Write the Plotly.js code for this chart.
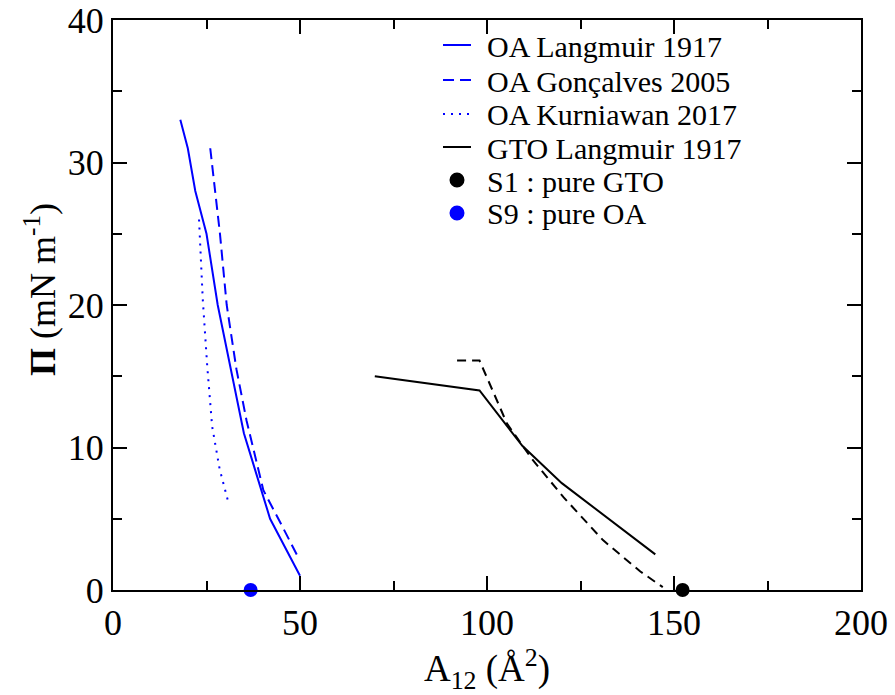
<!DOCTYPE html>
<html><head><meta charset="utf-8">
<script src="https://cdn.plot.ly/plotly-3.0.1.min.js"></script>
<style>
body{margin:0;background:#fff}
#c{width:895px;height:695px}
#c svg text, #c svg tspan { font-family: 'Liberation Serif', 'Times New Roman', serif !important; }
</style>
</head><body><div id="c"></div>
<script>
const oaLangX = [18, 20, 22, 25, 28, 35, 42, 50];
const oaLangY = [33, 31, 28, 25, 20, 11, 5, 1];
const oaGoncX = [26, 28.6, 30.4, 33, 35.7, 40.2, 45, 49.5];
const oaGoncY = [31, 25, 20, 15.5, 11.9, 7, 4.6, 2.3];
const oaKurnX = [23, 24, 25.2, 26.5, 28.5, 30.8];
const oaKurnY = [26, 20.4, 15.7, 11.5, 8.5, 6.2];
const gtoLangX = [70, 98, 109.5, 120, 145];
const gtoLangY = [15, 14, 10.1, 7.5, 2.5];
const gtoOtherX = [92, 98, 102, 105.3, 112, 120.5, 131, 141, 147];
const gtoOtherY = [16.1, 16.1, 13.7, 11.7, 9.2, 6.5, 3.5, 1.3, 0.2];
const s1X = [152.3], s1Y = [0];
const s9X = [36.8], s9Y = [0];
const legendNames = ['OA Langmuir 1917', 'OA Gonçalves 2005', 'OA Kurniawan 2017', 'GTO Langmuir 1917', 'S1 : pure GTO', 'S9 : pure OA'];

const blue = '#0000ff';
const styles = [
  {kind: 'line', color: blue, dash: 'solid'},
  {kind: 'line', color: blue, dash: '11px,6px'},
  {kind: 'line', color: blue, dash: '2px,6px'},
  {kind: 'line', color: '#000', dash: 'solid'},
  {kind: 'dot', color: '#000'},
  {kind: 'dot', color: blue}
];
const traces = [
  {x: oaLangX, y: oaLangY, mode: 'lines', name: legendNames[0], line: {color: blue, width: 2}},
  {x: oaGoncX, y: oaGoncY, mode: 'lines', name: legendNames[1], line: {color: blue, width: 2, dash: styles[1].dash}},
  {x: oaKurnX, y: oaKurnY, mode: 'lines', name: legendNames[2], line: {color: blue, width: 2, dash: styles[2].dash}},
  {x: gtoLangX, y: gtoLangY, mode: 'lines', name: legendNames[3], line: {color: '#000', width: 2}},
  {x: gtoOtherX, y: gtoOtherY, mode: 'lines', line: {color: '#000', width: 2, dash: '9px,6px'}},
  {x: s1X, y: s1Y, mode: 'markers', name: legendNames[4], marker: {color: '#000', size: 14}, cliponaxis: false},
  {x: s9X, y: s9Y, mode: 'markers', name: legendNames[5], marker: {color: blue, size: 14}, cliponaxis: false}
];

const serif = 'Liberation Serif, serif';
// plot area in pixels (for legend placement)
const L = 113, R = 861, T = 20, B = 590;
const px = (x) => (x - L) / (R - L);
const py = (y) => (B - y) / (B - T);
const rowY = [45, 80, 114, 147, 180, 213];
const shapes = [], annotations = [];
legendNames.forEach((name, i) => {
  const st = styles[i], yc = rowY[i];
  if (st.kind === 'line') {
    shapes.push({type: 'line', xref: 'paper', yref: 'paper', x0: px(443), x1: px(471), y0: py(yc), y1: py(yc),
                 line: {color: st.color, width: 2, dash: st.dash}});
  } else {
    shapes.push({type: 'circle', xref: 'paper', yref: 'paper', x0: px(449.5), x1: px(464.5), y0: py(yc + 7.5), y1: py(yc - 7.5),
                 fillcolor: st.color, line: {color: st.color, width: 0}});
  }
  annotations.push({text: name, xref: 'paper', yref: 'paper', x: px(485), y: py(yc + 1), xanchor: 'left', yanchor: 'middle',
                    showarrow: false, font: {family: serif, size: 30, color: '#000'}});
});
annotations.push({
  text: '<b>Π</b> (mN m<sup>-1</sup>)', textangle: -90, showarrow: false,
  xref: 'paper', yref: 'paper', x: px(40), y: py(290), xanchor: 'center', yanchor: 'middle',
  font: {family: serif, size: 36, color: '#000'}
});

const layout = {
  width: 895, height: 695,
  margin: {l: L, r: 895 - R, t: T, b: 695 - B},
  paper_bgcolor: '#fff', plot_bgcolor: '#fff',
  font: {family: serif, color: '#000'},
  showlegend: false,
  xaxis: {
    showline: true, linecolor: '#000', linewidth: 2, mirror: 'allticks',
    ticks: 'inside', ticklen: 14, tickwidth: 2, tickcolor: '#000',
    showgrid: false, zeroline: false,
    tickfont: {family: serif, size: 36, color: '#000'},
    range: [0, 200], dtick: 50, tick0: 0,
    minor: {dtick: 25, ticks: 'inside', ticklen: 9, tickwidth: 2, tickcolor: '#000'},
    title: {text: 'A<sub>12</sub> (Å<sup>2</sup>)', font: {family: serif, size: 37, color: '#000'}, standoff: 8}
  },
  yaxis: {
    showline: true, linecolor: '#000', linewidth: 2, mirror: 'allticks',
    ticks: 'inside', ticklen: 14, tickwidth: 2, tickcolor: '#000',
    showgrid: false, zeroline: false,
    tickfont: {family: serif, size: 36, color: '#000'},
    range: [0, 40], dtick: 10, tick0: 0,
    minor: {dtick: 5, ticks: 'inside', ticklen: 9, tickwidth: 2, tickcolor: '#000'}
  },
  shapes: shapes,
  annotations: annotations
};
Plotly.newPlot('c', traces, layout, {displayModeBar: false, staticPlot: true});
</script></body></html>
